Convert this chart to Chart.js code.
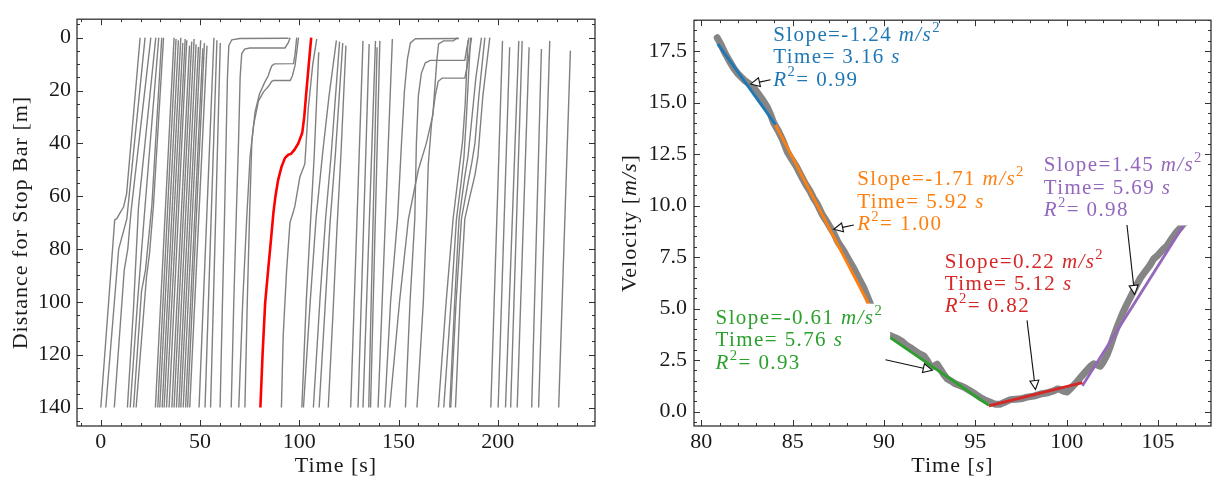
<!DOCTYPE html>
<html>
<head>
<meta charset="utf-8">
<script src="https://cdn.jsdelivr.net/npm/chart.js@4.4.1/dist/chart.umd.min.js"></script>
<style>
  html, body { margin: 0; padding: 0; background: #fff; }
  #wrap { position: relative; width: 1213px; height: 484px; }
  canvas { position: absolute; top: 0; }
  #trajCanvas { left: 0; }
  #velCanvas { left: 605px; }
</style>
</head>
<body>
<div id="wrap">
  <canvas id="trajCanvas" width="605" height="484"></canvas>
  <canvas id="velCanvas" width="608" height="484"></canvas>
</div>
<script>
// ---------- left panel: trajectories, [time s, distance m] ----------
// subject vehicle (red)
const subjectTime = [80.4, 81.5, 82.8, 84.3, 85.8, 87.0, 88.0, 89.3, 91.0, 92.8, 94.5, 95.8, 97.5, 99.5, 101.5, 102.5, 103.5, 104.8, 106.0];
const subjectDist = [140, 120, 100.5, 88, 76, 66, 60, 54, 49, 45.5, 44.3, 44, 42.5, 40, 36, 30, 21, 10, 0];

// free-flow vehicles, straight runs from 140 m to the stop bar
const freeStart = [27.5, 28.7, 29.7, 30.9, 31.9, 33.1, 34.4, 35.8, 36.9, 38.1, 39.3, 40.3, 41.5, 42.7, 43.7, 44.8,
                   49.5, 52.5, 55.3,
                   125.9, 129.6, 132.1, 135.0, 135.9, 139.7,
                   196.5, 200.2, 203.9, 206.5, 209.8, 217.1, 220.6, 230.7];
const freeEnd = [36.9, 37.9, 39.1, 40.3, 41.3, 42.5, 43.3, 44.7, 45.8, 47.0, 48.0, 49.2, 50.3, 51.4, 52.2, 53.5,
                 57.0, 58.5, 60.2,
                 132.1, 135.2, 138.4, 139.2, 140.6, 146.9,
                 202.4, 206.0, 210.6, 212.3, 215.8, 222.0, 226.2, 236.6];
const freeEndDist = [0, 0.5, 1, 0, 2, 0.5, 1, 3, 1.5, 0.5, 2.5, 3.5, 1, 4, 2, 3,
                     0, 1, 2,
                     1.2, 2.4, 1.2, 3.6, 1.2, 0.5,
                     1.2, 3.6, 1.2, 1.2, 3.6, 4.3, 1.2, 4.9];

// vehicles that slowed or queued
const queueLines = [
  [[0, 140], [7, 69], [8, 68.5], [11.5, 64], [13, 59], [19.8, 0]],
  [[2.5, 140], [9, 80], [10.8, 75], [13.1, 68.6], [22.3, 0]],
  [[6.8, 140], [11.8, 88], [13.6, 80], [15.2, 66], [25.2, 0]],
  [[13.4, 140], [16.5, 102], [19, 64], [27.7, 0]],
  [[14.8, 140], [18.5, 100], [22.3, 63.7], [29.2, 0]],
  [[16.5, 140], [20.5, 96], [22.5, 88], [25.7, 63.7], [30.7, 0]],
  [[17.8, 140], [23, 90.7], [24.5, 82], [26.5, 63.7], [31.6, 0]],
  [[60.1, 140], [61.3, 100], [62.3, 68.6], [63.1, 40], [63.8, 15], [64.5, 3], [66, 0.8], [70, 0.3], [94.6, 0.2]],
  [[65.7, 140], [67, 100], [68.2, 68.6], [69.4, 39], [70.2, 15], [71, 6], [72.5, 4.3], [75, 3.9], [92.8, 3.9], [94.4, 2], [95.4, 0]],
  [[72.6, 140], [73.8, 100], [74.9, 68.6], [76.1, 39.2], [77.7, 28.2], [79.9, 21.4], [82.5, 17], [84.3, 14.5], [85.3, 12.2], [86.2, 10.6], [87.5, 9.9], [97.1, 9.8], [97.9, 6], [98.7, 0]],
  [[69.5, 140], [71.5, 100], [73.5, 68.6], [75.2, 45], [77, 33], [79.4, 24], [82, 20.5], [84.5, 18.4], [86, 16.6], [87, 16.2], [95.4, 16.2], [96.5, 14.5], [97.9, 10.4], [98.8, 5], [99.6, 0]],
  [[91, 140], [91.9, 112.7], [93.6, 88.2], [95.3, 70], [96.9, 66.2], [97.8, 63.7], [100.3, 52.7], [102.8, 47.8], [104.5, 27], [106.8, 10], [108.8, 0.5]],
  [[101.3, 140], [103.5, 100], [105.5, 72], [107.5, 45], [109.8, 5.5]],
  [[102.1, 140], [105.5, 100], [108.5, 68], [112, 42], [115, 22], [118.7, 1]],
  [[107.1, 140], [110.5, 98], [113.3, 68], [116, 45], [120.3, 1.5]],
  [[110, 140], [113, 102], [115.5, 70], [118.2, 44], [121.9, 2]],
  [[114.6, 140], [117, 104], [119, 72], [121, 44], [123.5, 3]],
  [[143.1, 140], [146, 100], [149.5, 68.6], [151.5, 40], [153, 20], [154.5, 8], [156, 2], [158.5, 0.4], [180.5, 0.3]],
  [[153.5, 140], [155.8, 100], [158.2, 68.6], [159, 40], [160, 22], [161.5, 13.5], [163.5, 9.5], [166, 8.6], [183.4, 8.6], [184.4, 4], [185.5, 0]],
  [[159.3, 140], [162.5, 100], [164.1, 68.6], [165, 48], [166.7, 32], [168.5, 22], [170, 16.5], [172, 15.3], [183.4, 15.3], [184.8, 10], [186.2, 3], [186.8, 0]],
  [[145.6, 140], [150.5, 100], [155, 68.6], [160, 50], [164, 40], [167.3, 29.3], [169.3, 8.6], [170.2, 2.4], [172.7, 1.2], [177.6, 1.2], [179.8, 0]],
  [[170.1, 140], [174, 100], [177.5, 68.6], [180.5, 50], [182.3, 39], [183.6, 25], [185, 1]],
  [[172.8, 140], [176.5, 100], [179.2, 68.6], [181.5, 55], [183, 45], [184.2, 30], [186.3, 0]],
  [[175.8, 140], [178.3, 100], [180.5, 68.6], [183.5, 52], [185, 45], [186.5, 34], [189, 15], [191.8, 0]],
  [[176.3, 140], [179, 100], [181.7, 68.6], [185, 55], [187, 47], [188.5, 40], [190.5, 22], [193.5, 0]],
  [[178.7, 140], [181, 100], [183.4, 68.6], [186, 60], [188.5, 52], [190, 45], [192.5, 22], [196, 0]]
];

// ---------- right panel: subject vehicle speed ----------
const velTime = [80.87, 81.06, 81.3, 81.55, 81.78, 82.0, 82.15, 82.4, 82.65, 82.88, 83.1, 83.35, 83.61, 83.8, 83.97,
  84.2, 84.45, 84.7, 84.95, 85.2, 85.43, 85.7, 85.95, 86.15, 86.35, 86.6, 86.85, 87.05, 87.25, 87.5, 87.8, 88.05,
  88.35, 88.6, 88.9, 89.22, 89.5, 89.75, 89.99, 90.2, 90.45, 90.72, 91.0, 91.25, 91.45, 91.7, 91.95, 92.18, 92.35,
  92.54, 92.72, 92.91, 93.1, 93.27, 93.45, 93.64, 93.9, 94.19, 94.45, 94.73, 95.0, 95.28, 95.55, 95.83, 96.1, 96.37,
  96.6, 96.92, 97.2, 97.5, 97.83, 98.2, 98.56, 98.9, 99.29, 99.5, 99.66, 99.85, 100.02, 100.25, 100.57, 100.8,
  101.05, 101.3, 101.48, 101.7, 101.84, 102.0, 102.21, 102.4, 102.57, 102.8, 103.05, 103.3, 103.55, 103.8, 104.03,
  104.3, 104.55, 104.76, 105.0, 105.25, 105.49, 105.75, 106.0, 106.2, 106.4, 106.55];
const velSpeed = [18.15, 17.85, 17.4, 17.0, 16.66, 16.4, 16.27, 16.05, 15.9, 15.72, 15.45, 15.15, 14.78, 14.4, 14.0,
  13.65, 13.2, 12.62, 12.25, 11.9, 11.5, 11.05, 10.7, 10.35, 10.07, 9.6, 9.25, 8.95, 8.66, 8.2, 7.8, 7.4,
  6.94, 6.5, 6.0, 5.3, 4.7, 4.2, 3.8, 3.75, 3.65, 3.55, 3.4, 3.2, 3.1, 2.95, 2.8, 2.7, 2.5,
  2.2, 2.2, 2.3, 2.05, 1.8, 1.6, 1.5, 1.35, 1.25, 1.15, 1.0, 0.85, 0.68, 0.55, 0.45, 0.35, 0.36,
  0.45, 0.58, 0.6, 0.62, 0.7, 0.75, 0.85, 0.9, 1.0, 1.1, 1.07, 0.98, 0.95, 1.15, 1.45, 1.7,
  1.95, 2.2, 2.32, 2.25, 2.2, 2.4, 2.75, 3.2, 3.65, 4.2, 4.75, 5.22, 5.65, 6.1, 6.47,
  6.8, 7.1, 7.41, 7.6, 7.85, 8.04, 8.4, 8.7, 8.9, 9.13, 9.2];

// piecewise linear fits [time, speed]
const fitBlue = [[80.9, 17.85], [84.06, 13.93]];
const fitOrange = [[84.06, 13.93], [89.98, 3.81]];
const fitGreen = [[89.98, 3.81], [95.74, 0.30]];
const fitRed = [[95.74, 0.28], [100.86, 1.41]];
const fitPurple = [[100.86, 1.25], [106.55, 9.25]];

const fitColors = ['#1f77b4', '#ff7f0e', '#2ca02c', '#d62728', '#9467bd'];
const fitSlopes = ['-1.24', '-1.71', '-0.61', '0.22', '1.45'];
const fitTimes = ['3.16', '5.92', '5.76', '5.12', '5.69'];
const fitR2 = ['0.99', '1.00', '0.93', '0.82', '0.98'];
// label anchor (left, first line centre) and arrow tail / tip, in data units
const noteAt = [[83.94, 18.26], [88.53, 11.25], [80.78, 4.51], [93.33, 7.25], [98.74, 11.93]];
const noteTail = [[83.79, 16.11], [88.35, 9.06], [90.08, 2.52], [97.83, 4.43], [103.30, 9.06]];
const noteTip = [[82.70, 15.90], [87.25, 8.85], [92.64, 2.01], [98.29, 1.07], [103.72, 5.69]];

// ---------- helpers ----------
const SERIF = '"Liberation Serif", "DejaVu Serif", serif';
const INK = '#1a1a1a';
const GRAY = '#808080';

function partFont(style, size) {
  const s = style === 's' ? size * 0.7 : size;
  return (style === 'i' ? 'italic ' : '') + s + 'px ' + SERIF;
}
function richWidth(ctx, parts, size) {
  let w = 0;
  parts.forEach(([t, st]) => { ctx.font = partFont(st, size); w += ctx.measureText(t).width; });
  return w;
}
function drawRich(ctx, x, y, parts, size, color) {
  ctx.fillStyle = color;
  ctx.textBaseline = 'middle';
  ctx.textAlign = 'left';
  parts.forEach(([t, st]) => {
    ctx.font = partFont(st, size);
    ctx.fillText(t, x, st === 's' ? y - size * 0.36 : y);
    x += ctx.measureText(t).width;
  });
}
function arrow(ctx, x1, y1, x2, y2) {
  const dx = x2 - x1, dy = y2 - y1, L = Math.hypot(dx, dy);
  const ux = dx / L, uy = dy / L, hl = 9, hw = 4.5;
  const bx = x2 - ux * hl, by = y2 - uy * hl;
  ctx.strokeStyle = '#111';
  ctx.lineWidth = 1.1;
  ctx.beginPath(); ctx.moveTo(x1, y1); ctx.lineTo(bx, by); ctx.stroke();
  ctx.beginPath();
  ctx.moveTo(x2, y2);
  ctx.lineTo(bx - uy * hw, by + ux * hw);
  ctx.lineTo(bx + uy * hw, by - ux * hw);
  ctx.closePath();
  ctx.fillStyle = '#fff';
  ctx.fill(); ctx.stroke();
}

// inward ticks on all four sides + box + axis titles
const framePlugin = {
  id: 'frame',
  afterDatasetsDraw(chart, args, o) {
    const {ctx, chartArea: a} = chart;
    const sx = chart.scales.x, sy = chart.scales.y;
    ctx.save();
    ctx.strokeStyle = '#333';
    ctx.lineWidth = 1;
    ctx.beginPath();
    const marks = (scale, step, len) => {
      const lo = Math.ceil(scale.min / step - 1e-9), hi = Math.floor(scale.max / step + 1e-9);
      for (let i = lo; i <= hi; i++) {
        const p = Math.round(scale.getPixelForValue(i * step)) + 0.5;
        if (scale.isHorizontal()) {
          ctx.moveTo(p, a.bottom); ctx.lineTo(p, a.bottom - len);
          ctx.moveTo(p, a.top); ctx.lineTo(p, a.top + len);
        } else {
          ctx.moveTo(a.left, p); ctx.lineTo(a.left + len, p);
          ctx.moveTo(a.right, p); ctx.lineTo(a.right - len, p);
        }
      }
    };
    marks(sx, o.xMajor, 6); marks(sx, o.xMinor, 3);
    marks(sy, o.yMajor, 6); marks(sy, o.yMinor, 3);
    ctx.stroke();
    ctx.lineWidth = 1.3;
    ctx.strokeRect(a.left, a.top, a.right - a.left, a.bottom - a.top);

    ctx.letterSpacing = '1px';
    const wx = richWidth(ctx, o.xTitle, 22);
    drawRich(ctx, (a.left + a.right) / 2 - wx / 2, 466, o.xTitle, 22, INK);
    ctx.translate(o.yTitleX, (a.top + a.bottom) / 2);
    ctx.rotate(-Math.PI / 2);
    const wy = richWidth(ctx, o.yTitle, 22);
    drawRich(ctx, -wy / 2, 0, o.yTitle, 22, INK);
    ctx.restore();
  }
};

// fit annotations with white boxes and arrows
const notesPlugin = {
  id: 'notes',
  afterDatasetsDraw(chart) {
    const {ctx, scales: {x, y}} = chart;
    const size = 21, gap = 22.3;
    ctx.save();
    ctx.letterSpacing = '1.4px';
    fitColors.forEach((c, i) => {
      const lines = [
        [['Slope=' + fitSlopes[i] + ' ', ''], ['m/s', 'i'], ['2', 's']],
        [['Time= ' + fitTimes[i] + ' ', ''], ['s', 'i']],
        [['R', 'i'], ['2', 's'], ['= ' + fitR2[i], '']]
      ];
      const px = x.getPixelForValue(noteAt[i][0]);
      const py = y.getPixelForValue(noteAt[i][1]);
      const w = Math.max(...lines.map(l => richWidth(ctx, l, size)));
      ctx.fillStyle = '#fff';
      ctx.fillRect(px - 5, py - 15, w + 12, gap * 2 + 30);
      lines.forEach((l, k) => drawRich(ctx, px, py + k * gap, l, size, c));
      arrow(ctx,
        x.getPixelForValue(noteTail[i][0]), y.getPixelForValue(noteTail[i][1]),
        x.getPixelForValue(noteTip[i][0]), y.getPixelForValue(noteTip[i][1]));
    });
    ctx.restore();
  }
};

const tickFont = {family: SERIF, size: 22};
const lineDefaults = {pointRadius: 0, tension: 0, fill: false};

// ---------- left chart ----------
const trajDatasets = [];
trajDatasets.push(Object.assign({
  data: subjectTime.map((t, i) => [t, subjectDist[i]]),
  borderColor: '#ff0000', borderWidth: 2.6, order: 0
}, lineDefaults));
queueLines.forEach(l => trajDatasets.push(Object.assign({
  data: l, borderColor: GRAY, borderWidth: 1.4, order: 1
}, lineDefaults)));
freeStart.forEach((t, i) => trajDatasets.push(Object.assign({
  data: [[t, 140], [freeEnd[i], freeEndDist[i]]], borderColor: GRAY, borderWidth: 1.4, order: 1
}, lineDefaults)));

new Chart(document.getElementById('trajCanvas'), {
  type: 'line',
  data: {datasets: trajDatasets},
  options: {
    responsive: false,
    animation: false,
    devicePixelRatio: 1,
    layout: {padding: {top: 7, right: 10, left: 0, bottom: 0}},
    plugins: {
      legend: {display: false},
      tooltip: {enabled: false},
      frame: {xMajor: 50, xMinor: 10, yMajor: 20, yMinor: 5,
        xTitle: [['Time [s]', '']], yTitle: [['Distance for Stop Bar [m]', '']], yTitleX: 21}
    },
    scales: {
      x: {
        type: 'linear', min: -12, max: 249,
        grid: {display: false, drawTicks: false}, border: {display: false},
        ticks: {stepSize: 50, includeBounds: false, autoSkip: false, maxRotation: 0, padding: 3, font: tickFont, color: INK},
        afterFit(s) { s.height = 58; }
      },
      y: {
        type: 'linear', min: -7, max: 147, reverse: true,
        grid: {display: false, drawTicks: false}, border: {display: false},
        ticks: {stepSize: 20, includeBounds: false, autoSkip: false, padding: 6, font: tickFont, color: INK},
        afterFit(s) { s.width = 77; }
      }
    }
  },
  plugins: [framePlugin]
});

// ---------- right chart ----------
const fits = [fitBlue, fitOrange, fitGreen, fitRed, fitPurple];
const velDatasets = fits.map((f, i) => Object.assign({
  data: f, borderColor: fitColors[i], borderWidth: 2.8, order: 0
}, lineDefaults));
velDatasets.push(Object.assign({
  data: velTime.map((t, i) => [t, velSpeed[i]]),
  borderColor: '#858585', borderWidth: 7, borderJoinStyle: 'round', borderCapStyle: 'round', order: 1
}, lineDefaults));

new Chart(document.getElementById('velCanvas'), {
  type: 'line',
  data: {datasets: velDatasets},
  options: {
    responsive: false,
    animation: false,
    devicePixelRatio: 1,
    layout: {padding: {top: 7, right: 2, left: 0, bottom: 0}},
    plugins: {
      legend: {display: false},
      tooltip: {enabled: false},
      frame: {xMajor: 5, xMinor: 1, yMajor: 2.5, yMinor: 0.5,
        xTitle: [['Time [', ''], ['s', 'i'], [']', '']],
        yTitle: [['Velocity [', ''], ['m/s', 'i'], [']', '']], yTitleX: 25}
    },
    scales: {
      x: {
        type: 'linear', min: 79.6, max: 107.9,
        grid: {display: false, drawTicks: false}, border: {display: false},
        ticks: {stepSize: 5, includeBounds: false, autoSkip: false, maxRotation: 0, padding: 3, font: tickFont, color: INK},
        afterFit(s) { s.height = 58; }
      },
      y: {
        type: 'linear', min: -0.7, max: 19.0,
        grid: {display: false, drawTicks: false}, border: {display: false},
        ticks: {stepSize: 2.5, includeBounds: false, autoSkip: false, padding: 7, font: tickFont, color: INK,
          callback: v => v.toFixed(1)},
        afterFit(s) { s.width = 89; }
      }
    }
  },
  plugins: [notesPlugin, framePlugin]
});
</script>
</body>
</html>
